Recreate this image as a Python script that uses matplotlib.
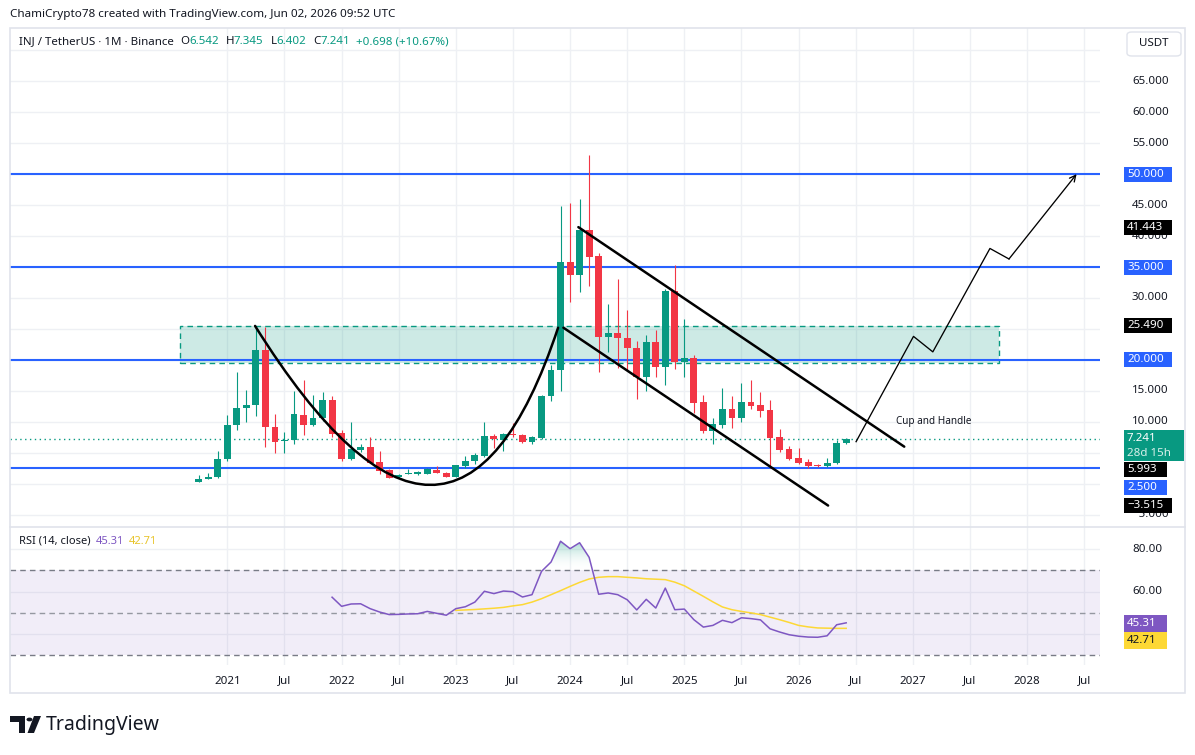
import numpy as np
import pandas as pd
import matplotlib
matplotlib.use("Agg")
import matplotlib.pyplot as plt
from matplotlib.patches import Rectangle, FancyBboxPatch, Polygon, Circle, PathPatch
from matplotlib.path import Path
from matplotlib.colors import LinearSegmentedColormap

plt.rcParams['font.family'] = ['Noto Sans', 'DejaVu Sans']

# ---------------- data ----------------
months = pd.period_range('2020-10', '2026-06', freq='M')
opens  = [0.30, 0.75, 1.05, 4.0, 9.5, 12.2, 12.7, 21.6, 9.2, 6.9, 7.0, 11.1, 9.5, 10.7, 13.5,
          8.2, 4.0, 5.5, 5.9, 3.5, 2.2, 1.15, 1.55, 1.65, 1.6, 2.3, 1.8,
          1.15, 2.9, 3.6, 4.5, 7.7, 7.1, 8.0, 7.8, 6.8, 7.4, 14.1, 18.3,
          35.8, 33.7, 41.0, 36.8, 23.7, 24.3, 23.5, 21.9, 17.2, 22.9, 18.9, 31.1,
          19.6, 20.3, 13.2, 8.6, 9.5, 12.1, 10.7, 13.2, 12.7, 11.9, 7.6, 5.6,
          4.1, 3.5, 3.0, 2.8, 3.3, 6.542]
highs  = [1.40, 1.7, 5.3, 11.1, 18.1, 15.2, 25.5, 25.3, 11.3, 8.4, 15.0, 16.7, 14.3, 14.8, 14.2,
          8.7, 9.9, 6.5, 7.6, 5.3, 2.4, 1.6, 2.4, 2.1, 2.6, 2.9, 1.9,
          3.1, 4.5, 4.9, 9.9, 8.0, 8.2, 9.8, 8.1, 7.7, 14.4, 19.2, 44.9,
          45.4, 46.0, 53.1, 37.2, 29.0, 33.1, 28.1, 23.0, 24.0, 24.8, 31.5, 35.3,
          26.6, 20.8, 14.3, 10.7, 15.4, 14.2, 16.2, 16.7, 14.8, 13.5, 8.85, 6.15,
          5.7, 3.95, 3.2, 4.1, 7.1, 7.345]
lows   = [0.25, 0.7, 1.0, 3.6, 8.7, 9.9, 11.0, 5.9, 4.9, 5.0, 6.4, 7.9, 9.3, 10.2, 7.6,
          3.7, 3.8, 5.2, 3.3, 1.5, 0.9, 1.0, 1.5, 1.4, 1.5, 1.7, 1.1,
          1.1, 2.6, 3.2, 4.4, 5.7, 5.3, 7.5, 6.6, 6.4, 7.3, 13.4, 15.0,
          29.3, 31.0, 32.0, 18.1, 21.2, 18.7, 18.4, 13.7, 15.0, 17.2, 16.0, 18.5,
          17.3, 11.4, 8.2, 6.4, 9.0, 9.0, 10.0, 12.0, 10.8, 2.5, 5.2, 3.9,
          3.2, 2.6, 2.7, 2.7, 3.2, 6.402]
closes = [0.75, 1.05, 4.0, 9.5, 12.3, 12.7, 21.6, 9.2, 6.8, 7.1, 11.3, 9.5, 10.7, 13.5, 8.0,
          4.0, 5.6, 5.9, 3.4, 2.1, 1.0, 1.4, 1.7, 1.75, 2.35, 1.75, 1.15,
          3.0, 3.6, 4.65, 7.7, 7.2, 8.0, 7.85, 6.75, 7.6, 14.2, 18.4, 35.8,
          33.7, 41.0, 36.7, 23.7, 24.3, 23.5, 21.9, 17.2, 22.9, 18.9, 31.1, 19.6,
          20.3, 13.1, 8.6, 9.7, 12.1, 10.7, 13.2, 12.6, 11.8, 7.4, 5.5, 4.0,
          3.4, 2.9, 2.8, 3.3, 6.543, 7.241]

rsi_start = pd.Period('2021-12', freq='M')
rsi_vals = [57.4, 53.1, 54.2, 54.3, 52.0, 50.4, 49.2, 49.3, 49.5, 49.6, 50.7, 49.8, 48.9,
            52.0, 52.9, 55.1, 60.2, 59.1, 60.3, 60.0, 57.5, 58.6, 69.6, 74.0, 83.8,
            80.3, 83.1, 76.2, 58.8, 59.4, 58.6, 56.2, 51.4, 56.4, 52.3, 61.7, 51.5,
            51.8, 46.8, 43.3, 44.1, 46.5, 45.4, 47.7, 47.3, 46.7, 42.5, 41.0, 39.7,
            39.0, 38.6, 38.5, 39.2, 44.4, 45.31]
ma_start = pd.Period('2023-01', freq='M')
ma_vals = [51.2, 51.4, 51.6, 51.9, 52.2, 52.6, 53.3, 53.9, 55.1, 56.7, 58.6, 60.5,
           62.5, 64.4, 66.0, 66.8, 67.1, 67.1, 66.8, 66.5, 66.1, 65.9, 65.7, 64.5,
           62.8, 60.3, 57.8, 55.2, 52.8, 51.5, 50.7, 50.0, 49.2, 48.0, 46.8, 45.5,
           44.1, 43.4, 42.9, 42.8, 42.7, 42.71]

time_ticks = ['2021', 'Jul', '2022', 'Jul', '2023', 'Jul', '2024', 'Jul', '2025', 'Jul',
              '2026', 'Jul', '2027', 'Jul', '2028', 'Jul']
price_ticks = [-5, 0, 5, 10, 15, 20, 25, 30, 35, 40, 45, 50, 55, 60, 65, 70]
blue_levels = [50.0, 35.0, 20.0, 2.5]
zone_low, zone_high = 19.45, 25.49
zone_span = (-5.0, 81.07)
# drawings, anchors in (months since Jan 2021, price)
cup_pts = [(2.91, 25.49), (23.76, -25.72), (34.74, 25.2)]
upper_channel = [(36.87, 41.443), (71.1, 5.993)]
lower_channel = [(35.3, 25.2), (63.1, -3.515)]
projection = [(66.04, 6.8), (72.07, 23.8), (74.1, 21.3), (80.1, 38.0), (82.1, 36.3), (89.2, 50.0)]
note_pos = (70.24, 10.03)
remaining = '28d 15h'

# ---------------- helpers ----------------
W, H = 1195, 755
fig = plt.figure(figsize=(W / 100, H / 100), dpi=100)
fig.patch.set_facecolor('white')
UP, DN = '#089981', '#f23645'
BLUE = '#2962ff'
TXT = '#131722'
GRID = '#eef0f4'
PURP = '#7e57c2'
YEL = '#fdd835'


def fx(x):
    return x / W


def fy(y):
    return 1 - y / H


def mi(p):
    return (p.year - 2021) * 12 + (p.month - 1)


x = np.array([mi(p) for p in months], dtype=float)
o, h, l, c = map(np.array, (opens, highs, lows, closes))

XL = (-22.83, 91.66)
PY = (-6.98, 73.6)
RY = (25.42, 90.52)
MAIN_TOP, MAIN_BOT, RSI_BOT = 28, 527, 665
PL, PR = 10, 1100

ax = fig.add_axes([fx(PL), fy(MAIN_BOT), (PR - PL) / W, (MAIN_BOT - MAIN_TOP) / H])
axr = fig.add_axes([fx(PL), fy(RSI_BOT), (PR - PL) / W, (RSI_BOT - MAIN_BOT) / H])
for a in (ax, axr):
    a.set_xlim(*XL)
    a.set_xticks([]); a.set_yticks([])
    for s in a.spines.values():
        s.set_visible(False)
    a.patch.set_alpha(0)
ax.set_ylim(*PY)
axr.set_ylim(*RY)


def py(v):
    return MAIN_BOT - (v - PY[0]) / (PY[1] - PY[0]) * (MAIN_BOT - MAIN_TOP)


def ry(v):
    return RSI_BOT - (v - RY[0]) / (RY[1] - RY[0]) * (RSI_BOT - MAIN_BOT)


tick_pos = np.arange(len(time_ticks)) * 6
# grid
for t in tick_pos:
    ax.axvline(t, color=GRID, lw=1, zorder=0)
    axr.axvline(t, color=GRID, lw=1, zorder=0)
for v in price_ticks:
    ax.axhline(v, color=GRID, lw=1, zorder=0)
for v in (40, 60, 80):
    axr.axhline(v, color=GRID, lw=1, zorder=0)

# zone
ax.add_patch(Rectangle((zone_span[0], zone_low), zone_span[1] - zone_span[0], zone_high - zone_low,
                       facecolor=UP, alpha=0.2, edgecolor='none', zorder=1))
ax.add_patch(Rectangle((zone_span[0], zone_low), zone_span[1] - zone_span[0], zone_high - zone_low,
                       facecolor='none', edgecolor=UP, lw=1, ls=(0, (4, 3)), zorder=1))

# blue levels
for v in blue_levels:
    ax.axhline(v, color=BLUE, lw=1.5, zorder=2)

# last price dotted line
ax.axhline(c[-1], color=UP, lw=1, ls=(0, (1, 2.5)), zorder=2)

# candles
col = np.where(c >= o, UP, DN)
ax.vlines(x, l, h, colors=col, lw=0.8, zorder=3)
body_lo = np.minimum(o, c)
body_h = np.maximum(np.abs(c - o), 0.18)
ax.bar(x, body_h, bottom=body_lo, width=0.72, color=col, edgecolor='none', zorder=4)

# cup
cup_path = Path(cup_pts, [Path.MOVETO, Path.CURVE3, Path.CURVE3])
ax.add_patch(PathPatch(cup_path, facecolor='none', edgecolor='black', lw=1.8, zorder=5,
                       capstyle='round'))
for seg in (upper_channel, lower_channel):
    xs, ys = zip(*seg)
    ax.plot(xs, ys, color='black', lw=1.8, zorder=5, solid_capstyle='round')
xs, ys = zip(*projection)
ax.plot(xs[:-1], ys[:-1], color='black', lw=0.95, zorder=5)
ax.annotate('', xy=projection[-1], xytext=projection[-2],
            arrowprops=dict(arrowstyle='->', color='black', lw=0.95, mutation_scale=11,
                            shrinkA=0, shrinkB=0), zorder=5)
ax.text(note_pos[0], note_pos[1], 'Cup and Handle', fontsize=7.2, color=TXT, ha='left',
        va='center', zorder=6)

# ---------------- RSI ----------------
xr = np.array([mi(rsi_start + i) for i in range(len(rsi_vals))], dtype=float)
xm = np.array([mi(ma_start + i) for i in range(len(ma_vals))], dtype=float)
rv = np.array(rsi_vals)
axr.add_patch(Rectangle((XL[0], 30), XL[1] - XL[0], 40, facecolor=PURP, alpha=0.1,
                        edgecolor='none', zorder=0.5))
for v in (70, 50, 30):
    axr.axhline(v, color='#787b86' if v != 50 else '#9598a1', lw=1, ls=(0, (4, 3)), zorder=1)
fb = axr.fill_between(xr, 70, rv, where=rv >= 70, interpolate=True, facecolor='none',
                      edgecolor='none')
paths = fb.get_paths()
if paths:
    cp = Path.make_compound_path(*paths)
    cmap = LinearSegmentedColormap.from_list('g', [(1, 1, 1, 0), (0.03, 0.6, 0.5, 0.45)])
    grad = np.linspace(0, 1, 256).reshape(-1, 1)
    im = axr.imshow(grad, extent=[XL[0], XL[1], 70, 85], origin='lower', aspect='auto',
                    cmap=cmap, zorder=1.5)
    im.set_clip_path(PathPatch(cp, transform=axr.transData))
axr.set_xlim(*XL)
axr.set_ylim(*RY)
axr.plot(xm, ma_vals, color=YEL, lw=1.1, zorder=3)
axr.plot(xr, rv, color=PURP, lw=1.1, zorder=4)

# ---------------- frame & separators ----------------
fig.add_artist(Rectangle((fx(10), fy(693)), (1185 - 10) / W, (693 - MAIN_TOP) / H,
                         transform=fig.transFigure, facecolor='none', edgecolor='#e0e3eb',
                         lw=1.2, zorder=1))
fig.add_artist(plt.Line2D([fx(10), fx(1185)], [fy(MAIN_BOT), fy(MAIN_BOT)],
                          transform=fig.transFigure, color='#e0e3eb', lw=1.2, zorder=1))

# time axis labels
for t, lab in zip(tick_pos, time_ticks):
    axr.text(t, -0.116, lab, transform=axr.get_xaxis_transform(), ha='center', va='center',
             fontsize=8.3, color=TXT, fontweight='bold' if lab != 'Jul' else 'normal',
             clip_on=False)

# ---------------- price-scale boxes ----------------
box_spans = []


def box(y_c, text, fc, tc='white', x0=1124, x1=1172, hgt=15, text2=None):
    box_spans.append((y_c - hgt / 2, y_c + hgt / 2))
    fig.add_artist(Rectangle((fx(x0), fy(y_c + hgt / 2)), (x1 - x0) / W, hgt / H,
                             transform=fig.transFigure, facecolor=fc, edgecolor='none',
                             zorder=6))
    if text2 is None:
        fig.text(fx(x0 + 3), fy(y_c), text, color=tc, fontsize=8.3, ha='left', va='center',
                 fontweight='bold', zorder=7)
    else:
        fig.text(fx(x0 + 3), fy(y_c - 7), text, color=tc, fontsize=8.3, ha='left',
                 va='center', fontweight='bold', zorder=7)
        fig.text(fx(x0 + 3), fy(y_c + 8), text2, color='#d8f0ea', fontsize=8.3, ha='left',
                 va='center', zorder=7)


def fmt(v):
    return f'{v:.3f}'.replace('-', '\u2212')


for v in blue_levels[:3]:
    box(py(v), fmt(v), BLUE)
box(py(upper_channel[0][1]), fmt(upper_channel[0][1]), 'black')
box(py(zone_high), fmt(zone_high), 'black')
box(py(c[-1]) + 7, fmt(c[-1]), UP, x1=1184, hgt=31, text2=remaining)
box(py(upper_channel[1][1]) + 23, fmt(upper_channel[1][1]), 'black', x1=1167)
box(py(blue_levels[3]) + 19, fmt(blue_levels[3]), BLUE, x1=1167)
box(py(lower_channel[1][1]), fmt(lower_channel[1][1]), 'black')
box(ry(rv[-1]) + 0.7, f'{rv[-1]:.2f}', PURP, x1=1167, hgt=17)
box(ry(rv[-1]) + 17.7, f'{ma_vals[-1]:.2f}', YEL, tc=TXT, x1=1167, hgt=17)

# USDT box
box_spans.append((32, 56))
fig.add_artist(FancyBboxPatch((fx(1127), fy(56)), 54 / W, 24 / H,
                              boxstyle='round,pad=0,rounding_size=0.004',
                              transform=fig.transFigure, facecolor='white',
                              edgecolor='#e0e3eb', lw=1, zorder=6))
fig.text(fx(1154), fy(44), 'USDT', fontsize=8.3, color=TXT, ha='center', va='center',
         zorder=7)

# price axis tick labels (those whose centre is hidden under a box are skipped)
for v in price_ticks:
    yp = py(v)
    if any(a0 <= yp <= a1 for a0, a1 in box_spans):
        continue
    fig.text(fx(1132), fy(yp), fmt(v), fontsize=8.3, color=TXT, ha='left', va='center',
             zorder=5)
for v in (80, 60):
    fig.text(fx(1132), fy(ry(v)), f'{v:.2f}', fontsize=8.3, color=TXT, ha='left',
             va='center', zorder=5)

# ---------------- header texts ----------------
renderer = fig.canvas.get_renderer()


def seq_text(x_px, y_px, pieces, size):
    xx = x_px
    for s, colr, gap in pieces:
        t = fig.text(fx(xx), fy(y_px), s, color=colr, fontsize=size, ha='left', va='center',
                     zorder=7)
        xx += t.get_window_extent(renderer=renderer).width + gap


fig.text(fx(10), fy(14), 'ChamiCrypto78 created with TradingView.com, Jun 02, 2026 09:52 UTC',
         fontsize=8.4, color=TXT, ha='left', va='center')
chg = c[-1] - c[-2]
pct = chg / c[-2] * 100
seq_text(19, 42, [('INJ / TetherUS \u00b7 1M \u00b7 Binance', TXT, 6),
                  ('O', TXT, 0), (f'{o[-1]:.3f}', UP, 7),
                  ('H', TXT, 0), (f'{h[-1]:.3f}', UP, 7),
                  ('L', TXT, 0), (f'{l[-1]:.3f}', UP, 7),
                  ('C', TXT, 0), (f'{c[-1]:.3f}', UP, 6),
                  (f'{chg:+.3f} ({pct:+.2f}%)', UP, 0)], 8.3)
seq_text(19, 541, [('RSI (14, close)', TXT, 5), (f'{rv[-1]:.2f}', PURP, 5),
                   (f'{ma_vals[-1]:.2f}', '#e8c42a', 0)], 8.0)

# ---------------- logo ----------------
fig.add_artist(Polygon([(fx(10), fy(716)), (fx(25), fy(716)), (fx(25), fy(733)), (fx(19), fy(733)),
                        (fx(19), fy(722)), (fx(10), fy(722))], closed=True,
                       transform=fig.transFigure, facecolor=TXT, edgecolor='none'))
fig.add_artist(Circle((fx(29.5), fy(719.5)), 3 / W, transform=fig.transFigure, facecolor=TXT,
                      edgecolor='none'))
fig.add_artist(Polygon([(fx(34), fy(716)), (fx(41), fy(716)), (fx(34), fy(733)), (fx(27.5), fy(733))],
                       closed=True, transform=fig.transFigure, facecolor=TXT, edgecolor='none'))
fig.text(fx(46), fy(725), 'TradingView', fontsize=14, fontweight='bold', color=TXT,
         ha='left', va='center')

fig.savefig('out.png', dpi=100, facecolor='white')
